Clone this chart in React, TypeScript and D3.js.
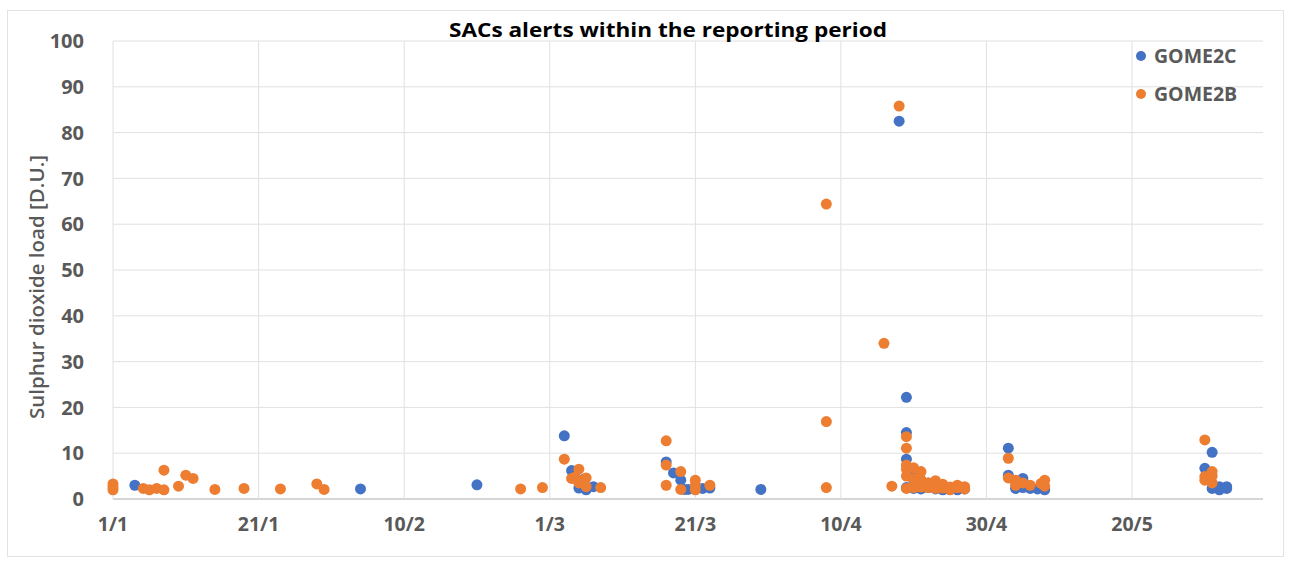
import React from "react";
import * as d3 from "d3";

// ---- data (dates are 2020, values in D.U.) ----
const gome2cDates = [
  "2020-01-04", "2020-02-04", "2020-02-20",
  "2020-03-03", "2020-03-04", "2020-03-04T12:00", "2020-03-05", "2020-03-05T16:00", "2020-03-06", "2020-03-07",
  "2020-03-17", "2020-03-18", "2020-03-19", "2020-03-19T12:00", "2020-03-20", "2020-03-21", "2020-03-22", "2020-03-23",
  "2020-03-30",
  "2020-04-18", "2020-04-19", "2020-04-19", "2020-04-19", "2020-04-19",
  "2020-04-20", "2020-04-20", "2020-04-20", "2020-04-21", "2020-04-21", "2020-04-22", "2020-04-22",
  "2020-04-23", "2020-04-24", "2020-04-24", "2020-04-25", "2020-04-26", "2020-04-27",
  "2020-05-03", "2020-05-03", "2020-05-04", "2020-05-04", "2020-05-05", "2020-05-05", "2020-05-06", "2020-05-07", "2020-05-08",
  "2020-05-30", "2020-05-31", "2020-05-31", "2020-06-01", "2020-06-01", "2020-06-02", "2020-06-02",
];
const gome2cValues = [
  3.0, 2.2, 3.1,
  13.8, 6.2, 4.5, 2.4, 4.3, 2.0, 2.7,
  8.1, 5.7, 4.1, 2.1, 2.1, 2.1, 2.3, 2.4,
  2.1,
  82.5, 22.2, 14.5, 8.7, 2.5,
  4.1, 5.5, 2.3, 3.0, 2.2, 2.5, 3.5,
  2.2, 2.0, 3.0, 2.1, 2.0, 2.2,
  11.1, 5.2, 2.3, 3.8, 4.5, 2.5, 2.3, 2.2, 2.0,
  6.7, 10.2, 2.3, 2.7, 2.0, 2.7, 2.3,
];

const gome2bDates = [
  "2020-01-01", "2020-01-01", "2020-01-01", "2020-01-05T04:00", "2020-01-06", "2020-01-07", "2020-01-08", "2020-01-08",
  "2020-01-10", "2020-01-11", "2020-01-12", "2020-01-15", "2020-01-19", "2020-01-24", "2020-01-29", "2020-01-30",
  "2020-02-26", "2020-02-29",
  "2020-03-03", "2020-03-04", "2020-03-04T12:00", "2020-03-05", "2020-03-05", "2020-03-05", "2020-03-06", "2020-03-06", "2020-03-08",
  "2020-03-17", "2020-03-17", "2020-03-17", "2020-03-19", "2020-03-19", "2020-03-21", "2020-03-21", "2020-03-21", "2020-03-23",
  "2020-04-08", "2020-04-08", "2020-04-08", "2020-04-15T22:00", "2020-04-17",
  "2020-04-18", "2020-04-19", "2020-04-19", "2020-04-19", "2020-04-19", "2020-04-19", "2020-04-19",
  "2020-04-20", "2020-04-20", "2020-04-20", "2020-04-20", "2020-04-21", "2020-04-21", "2020-04-21",
  "2020-04-22", "2020-04-22", "2020-04-23", "2020-04-23", "2020-04-23", "2020-04-24", "2020-04-24",
  "2020-04-25", "2020-04-25", "2020-04-26", "2020-04-26", "2020-04-27", "2020-04-27",
  "2020-05-03", "2020-05-03", "2020-05-04", "2020-05-04", "2020-05-05", "2020-05-06", "2020-05-07T12:00", "2020-05-08", "2020-05-08",
  "2020-05-30", "2020-05-30", "2020-05-30", "2020-05-31", "2020-05-31", "2020-05-31",
];
const gome2bValues = [
  3.3, 2.0, 2.6, 2.3, 2.0, 2.3, 2.0, 6.3,
  2.8, 5.2, 4.5, 2.1, 2.3, 2.2, 3.3, 2.1,
  2.2, 2.5,
  8.7, 4.5, 4.8, 6.5, 4.0, 3.5, 4.6, 2.7, 2.5,
  12.7, 7.4, 3.0, 6.0, 2.1, 4.1, 3.0, 2.0, 3.0,
  64.4, 16.9, 2.5, 34.0, 2.8,
  85.8, 13.6, 11.1, 7.4, 2.3, 6.5, 5.0,
  6.8, 4.5, 3.0, 2.5, 6.0, 4.2, 2.6,
  3.5, 2.5, 4.0, 3.0, 2.3, 3.2, 2.4,
  2.6, 2.0, 3.0, 2.5, 2.7, 2.2,
  8.9, 4.6, 4.1, 3.0, 3.5, 3.0, 3.4, 4.1, 2.8,
  12.9, 4.9, 4.1, 6.0, 5.0, 3.5,
];

const xTickDates = ["2020-01-01", "2020-01-21", "2020-02-10", "2020-03-01", "2020-03-21", "2020-04-10", "2020-04-30", "2020-05-20"];
const xTickLabels = ["1/1", "21/1", "10/2", "1/3", "21/3", "10/4", "30/4", "20/5"];
const yTicks = [0, 10, 20, 30, 40, 50, 60, 70, 80, 90, 100];

const seriesNames = ["GOME2C", "GOME2B"];
const seriesColors = ["#4472C4", "#ED7D31"];

const parse = (s: string) => new Date(s.length > 10 ? s : s + "T00:00");

export default function App() {
  const W = 1290;
  const H = 563;
  const left = 113, right = 1263, top = 41, bottom = 499;

  const x = d3
    .scaleTime()
    .domain([parse("2020-01-01"), parse("2020-06-08")])
    .range([left, left + 7.279 * 159]);
  const y = d3.scaleLinear().domain([0, 100]).range([bottom, top]);

  const series = [
    gome2cDates.map((d, i) => ({ x: parse(d), y: gome2cValues[i] })),
    gome2bDates.map((d, i) => ({ x: parse(d), y: gome2bValues[i] })),
  ];

  const grey = "#595959";
  const font = "'Open Sans', 'Liberation Sans', sans-serif";

  return (
    <svg width={W} height={H} style={{ position: "absolute", left: 0, top: 0, background: "#fff" }} fontFamily={font}>
      <rect x={0} y={0} width={W} height={H} fill="#fff" />
      <rect x={7.5} y={10.5} width={1276} height={546} fill="none" stroke="#e3e3e3" />
      {/* horizontal gridlines */}
      {yTicks.map((t) => (
        <line key={"h" + t} x1={left} x2={right} y1={y(t)} y2={y(t)} stroke={t === 0 ? "#c8c8c8" : "#e0e0e0"} strokeWidth={t === 0 ? 1.5 : 1} />
      ))}
      {/* vertical gridlines */}
      {xTickDates.map((d) => (
        <line key={"v" + d} x1={x(parse(d))} x2={x(parse(d))} y1={top} y2={bottom} stroke="#e0e0e0" />
      ))}
      {/* y tick labels */}
      {yTicks.map((t) => (
        <text key={"yt" + t} x={84} y={y(t)} dy="0.36em" textAnchor="end" fontSize={20} fontWeight={700} fill={grey}>
          {t}
        </text>
      ))}
      {/* x tick labels */}
      {xTickDates.map((d, i) => (
        <text key={"xt" + d} x={x(parse(d))} y={531} textAnchor="middle" fontSize={19.5} fontWeight={700} fill={grey}>
          {xTickLabels[i]}
        </text>
      ))}
      {/* axis title */}
      <text transform="translate(44,287) rotate(-90)" textAnchor="middle" fontSize={20.5} fontWeight={600} fill={grey}>
        Sulphur dioxide  load [D.U.]
      </text>
      {/* title */}
      <text x={668} y={37} textAnchor="middle" fontSize={20} fontWeight={700} fill="#000" textLength={438} lengthAdjust="spacingAndGlyphs">
        SACs alerts within the reporting period
      </text>
      {/* points */}
      {series.map((pts, si) => (
        <g key={"s" + si}>
          {pts.map((p, i) => (
            <circle key={i} cx={x(p.x)} cy={y(p.y)} r={5.5} fill={seriesColors[si]} />
          ))}
        </g>
      ))}
      {/* legend */}
      {seriesNames.map((n, i) => (
        <g key={n} transform={`translate(1141,${56 + i * 38})`}>
          <circle cx={0} cy={0} r={5} fill={seriesColors[i]} />
          <text x={13} y={0} dy="0.36em" fontSize={19.5} fontWeight={700} fill={grey}>
            {n}
          </text>
        </g>
      ))}
    </svg>
  );
}
